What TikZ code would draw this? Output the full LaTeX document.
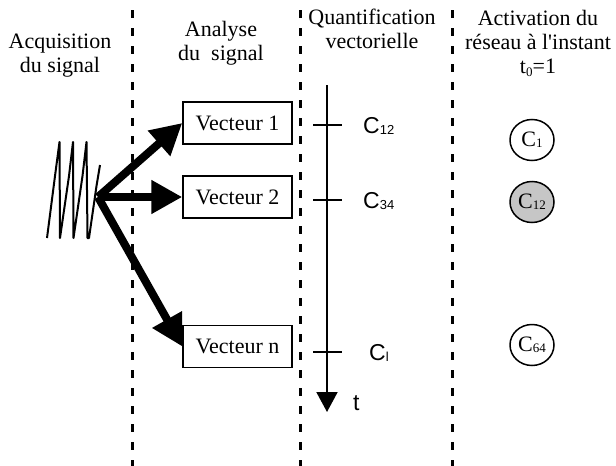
\documentclass[tikz,border=0pt]{standalone}
\usepackage{fontspec}
\setmainfont{Liberation Serif}[Ligatures=TeXOff]
\newfontfamily\sansfont{Liberation Sans}
\usetikzlibrary{arrows.meta,shapes.geometric}

% small lowered indices
\newcommand\hsub[1]{\raisebox{-3pt}{\fontsize{13}{13}\selectfont #1}}
\newcommand\csub[1]{\raisebox{-1.5pt}{\fontsize{13}{13}\selectfont #1}}
\newcommand\nsub[1]{\raisebox{-1pt}{\fontsize{13}{13}\selectfont #1}}

\begin{document}
\begin{tikzpicture}[x=1pt,y=-1pt,
  header/.style={font=\fontsize{22}{24}\selectfont, align=center, inner sep=0pt, anchor=base},
  divider/.style={line width=3pt, dash pattern=on 8pt off 10pt},
  vecbox/.style={draw, line width=1.5pt, minimum width=109pt, minimum height=42pt,
                 inner sep=0pt, font=\fontsize{22}{24}\selectfont},
  bigarrow/.style={line width=8pt, -{Triangle[length=31pt,width=32pt]}},
  tickmark/.style={line width=1.5pt},
  clabel/.style={font=\sansfont\fontsize{23}{23}\selectfont, inner sep=0pt, anchor=base west},
  neuron/.style={draw, ellipse, line width=1.5pt, minimum width=44pt, minimum height=41pt,
                 inner sep=0pt, font=\fontsize{22}{22}\selectfont},
]
\useasboundingbox (0,0) rectangle (616,466);

% column separators
\coordinate (d1t) at (132.5,10);  \coordinate (d1b) at (132.5,466);
\coordinate (d2t) at (300.5,10);  \coordinate (d2b) at (300.5,466);
\coordinate (d3t) at (452.5,10);  \coordinate (d3b) at (452.5,466);
\draw[divider] (d1t) -- (d1b);
\draw[divider] (d2t) -- (d2b);
\draw[divider] (d3t) -- (d3b);

% column headings (anchored on the baseline of their last line)
\node[header] (hAcq) at (60,72)  {Acquisition\\du signal};
\node[header] (hAna) at (221,60) {Analyse\\du~~signal};
\node[header] (hQua) at (372,48) {Quantification\\vectorielle};
\node[header] (hAct) at (538,73) {Activation du\\réseau à l'instant\\t\hsub{0}=1};

% vectors
\node[vecbox] (v1) at (237.5,123)   {Vecteur 1};
\node[vecbox] (v2) at (237.5,197)   {Vecteur 2};
\node[vecbox] (vn) at (237.5,346.5) {Vecteur n};

% acquired signal
\draw[line width=2pt, line join=round]
  (47,238) -- (55,176) -- (59.5,142) -- (60,238)
  -- (69,176) -- (73,142) -- (73.5,238)
  -- (82.5,176) -- (86.5,142) -- (87.5,238) -- (89,238)
  -- (96.5,186) -- (100,165);
\coordinate (hub) at (98,197);

\draw[bigarrow] (hub) -- (v1.west);
\draw[bigarrow] (hub) -- (v2.west);
\draw[bigarrow] (hub) -- (vn.west);

% time axis
\coordinate (ttop) at (327,85);
\coordinate (tend) at (327,412);
\draw[line width=2pt, -{Triangle[length=20pt,width=21pt]}] (ttop) -- (tend);
\draw[tickmark] (313,125) -- (342,125);
\draw[tickmark] (313,200) -- (342,200);
\draw[tickmark] (313,352) -- (342,352);

\node[clabel] (c12) at (363,133) {C\csub{12}};
\node[clabel] (c34) at (363,208) {C\csub{34}};
\node[clabel] (cl)  at (369,360) {C\csub{l}};
\node[clabel] (tl)  at (353,410) {t};

% activated units
\node[neuron] (n1)  at (532,140) {C\nsub{1}};
\node[neuron, fill=gray!45] (n12) at (532,202) {C\nsub{12}};
\node[neuron] (n64) at (532,345) {C\nsub{64}};
\end{tikzpicture}
\end{document}
